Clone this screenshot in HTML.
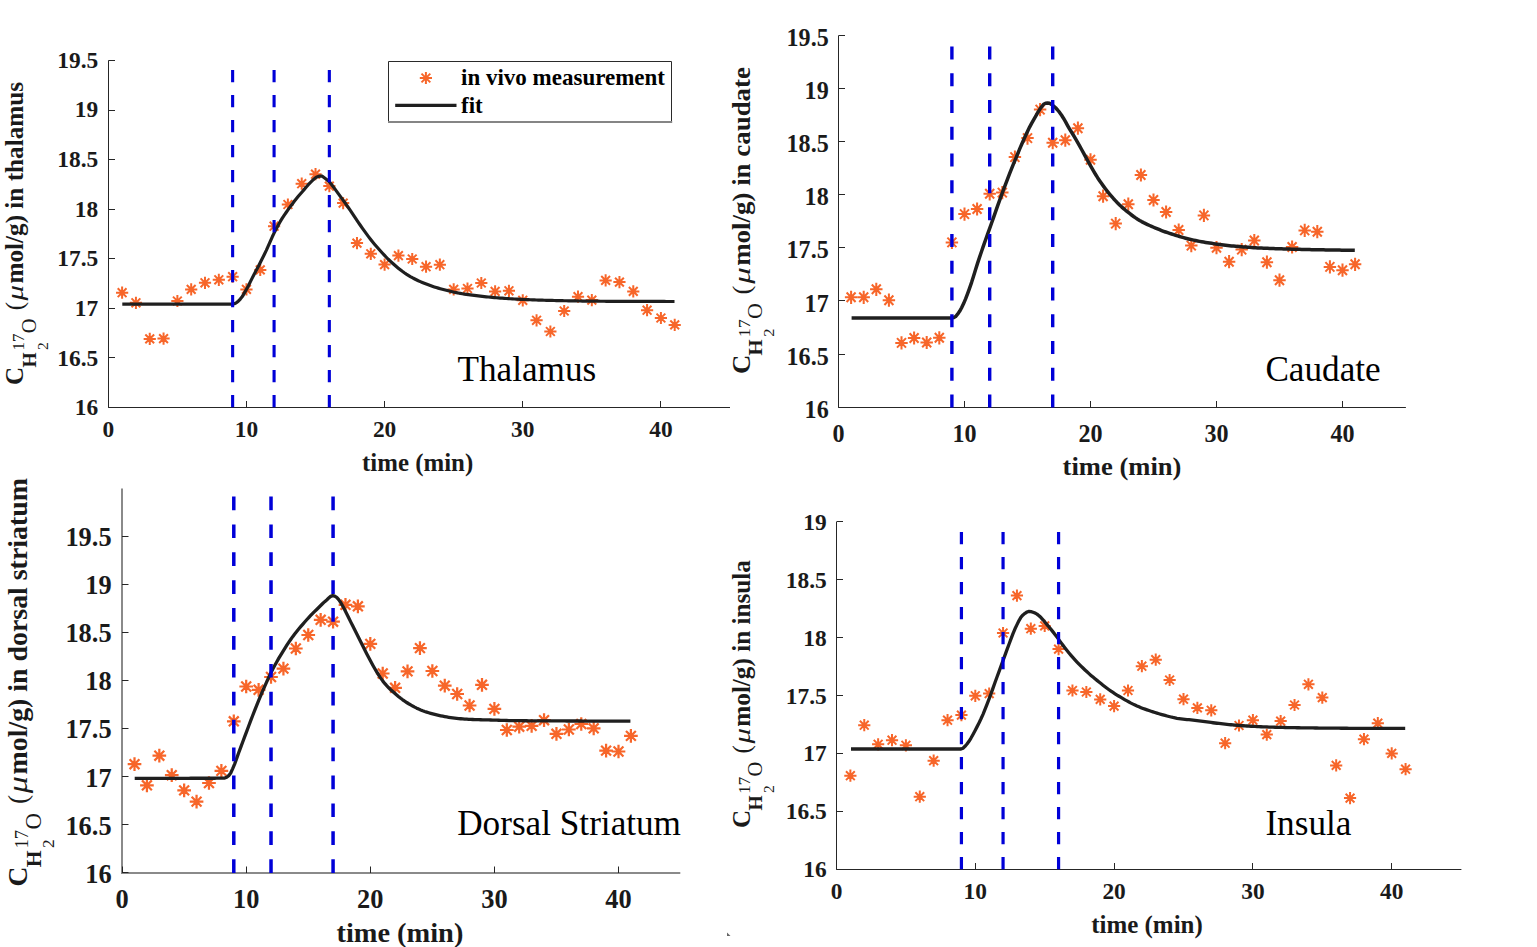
<!DOCTYPE html>
<html><head><meta charset="utf-8"><style>
html,body{margin:0;padding:0;background:#fff;}
svg{display:block;}
</style></head><body>
<svg width="1537" height="947" viewBox="0 0 1537 947">
<rect width="1537" height="947" fill="#fff"/>
<g id="p1"><path d="M108.50,60.45V407.50H730.00" fill="none" stroke="#262626" stroke-width="1.0" stroke-linecap="butt"/>
<path d="M108.50,407.50h6.5M108.50,357.50h6.5M108.50,308.50h6.5M108.50,258.50h6.5M108.50,209.50h6.5M108.50,159.50h6.5M108.50,110.50h6.5M108.50,60.50h6.5M108.50,407.50v-6.5M246.50,407.50v-6.5M384.50,407.50v-6.5M522.50,407.50v-6.5M660.50,407.50v-6.5" stroke="#262626" stroke-width="1" fill="none"/>
<path d="M116.02,292.70h12.20M122.11,286.60v12.20M117.71,288.30l8.80,8.80M117.71,297.10l8.80,-8.80M129.83,302.80h12.20M135.93,296.70v12.20M131.53,298.40l8.80,8.80M131.53,307.20l8.80,-8.80M143.65,338.90h12.20M149.75,332.80v12.20M145.34,334.50l8.80,8.80M145.34,343.30l8.80,-8.80M157.46,338.60h12.20M163.56,332.50v12.20M159.16,334.20l8.80,8.80M159.16,343.00l8.80,-8.80M171.28,301.00h12.20M177.38,294.90v12.20M172.97,296.60l8.80,8.80M172.97,305.40l8.80,-8.80M185.09,289.40h12.20M191.19,283.30v12.20M186.79,285.00l8.80,8.80M186.79,293.80l8.80,-8.80M198.91,282.80h12.20M205.00,276.70v12.20M200.60,278.40l8.80,8.80M200.60,287.20l8.80,-8.80M212.72,279.80h12.20M218.82,273.70v12.20M214.42,275.40l8.80,8.80M214.42,284.20l8.80,-8.80M226.53,276.70h12.20M232.63,270.60v12.20M228.23,272.30l8.80,8.80M228.23,281.10l8.80,-8.80M240.35,289.40h12.20M246.45,283.30v12.20M242.05,285.00l8.80,8.80M242.05,293.80l8.80,-8.80M254.16,269.90h12.20M260.26,263.80v12.20M255.86,265.50l8.80,8.80M255.86,274.30l8.80,-8.80M267.98,226.20h12.20M274.08,220.10v12.20M269.68,221.80l8.80,8.80M269.68,230.60l8.80,-8.80M281.79,204.50h12.20M287.89,198.40v12.20M283.50,200.10l8.80,8.80M283.50,208.90l8.80,-8.80M295.61,183.70h12.20M301.71,177.60v12.20M297.31,179.30l8.80,8.80M297.31,188.10l8.80,-8.80M309.42,174.20h12.20M315.52,168.10v12.20M311.12,169.80l8.80,8.80M311.12,178.60l8.80,-8.80M323.24,186.10h12.20M329.34,180.00v12.20M324.94,181.70l8.80,8.80M324.94,190.50l8.80,-8.80M337.05,203.10h12.20M343.15,197.00v12.20M338.75,198.70l8.80,8.80M338.75,207.50l8.80,-8.80M350.87,243.10h12.20M356.97,237.00v12.20M352.57,238.70l8.80,8.80M352.57,247.50l8.80,-8.80M364.69,253.80h12.20M370.79,247.70v12.20M366.39,249.40l8.80,8.80M366.39,258.20l8.80,-8.80M378.50,264.60h12.20M384.60,258.50v12.20M380.20,260.20l8.80,8.80M380.20,269.00l8.80,-8.80M392.31,255.60h12.20M398.42,249.50v12.20M394.02,251.20l8.80,8.80M394.02,260.00l8.80,-8.80M406.13,259.00h12.20M412.23,252.90v12.20M407.83,254.60l8.80,8.80M407.83,263.40l8.80,-8.80M419.94,266.70h12.20M426.05,260.60v12.20M421.65,262.30l8.80,8.80M421.65,271.10l8.80,-8.80M433.76,264.70h12.20M439.86,258.60v12.20M435.46,260.30l8.80,8.80M435.46,269.10l8.80,-8.80M447.57,289.40h12.20M453.68,283.30v12.20M449.28,285.00l8.80,8.80M449.28,293.80l8.80,-8.80M461.39,288.50h12.20M467.49,282.40v12.20M463.09,284.10l8.80,8.80M463.09,292.90l8.80,-8.80M475.20,283.00h12.20M481.31,276.90v12.20M476.91,278.60l8.80,8.80M476.91,287.40l8.80,-8.80M489.02,291.40h12.20M495.12,285.30v12.20M490.72,287.00l8.80,8.80M490.72,295.80l8.80,-8.80M502.83,290.80h12.20M508.94,284.70v12.20M504.54,286.40l8.80,8.80M504.54,295.20l8.80,-8.80M516.65,300.30h12.20M522.75,294.20v12.20M518.35,295.90l8.80,8.80M518.35,304.70l8.80,-8.80M530.46,320.30h12.20M536.56,314.20v12.20M532.16,315.90l8.80,8.80M532.16,324.70l8.80,-8.80M544.28,331.50h12.20M550.38,325.40v12.20M545.98,327.10l8.80,8.80M545.98,335.90l8.80,-8.80M558.09,311.00h12.20M564.19,304.90v12.20M559.79,306.60l8.80,8.80M559.79,315.40l8.80,-8.80M571.91,296.70h12.20M578.01,290.60v12.20M573.61,292.30l8.80,8.80M573.61,301.10l8.80,-8.80M585.72,300.10h12.20M591.82,294.00v12.20M587.42,295.70l8.80,8.80M587.42,304.50l8.80,-8.80M599.54,280.40h12.20M605.64,274.30v12.20M601.24,276.00l8.80,8.80M601.24,284.80l8.80,-8.80M613.35,282.10h12.20M619.45,276.00v12.20M615.05,277.70l8.80,8.80M615.05,286.50l8.80,-8.80M627.17,291.40h12.20M633.27,285.30v12.20M628.87,287.00l8.80,8.80M628.87,295.80l8.80,-8.80M640.98,310.20h12.20M647.08,304.10v12.20M642.68,305.80l8.80,8.80M642.68,314.60l8.80,-8.80M654.80,318.00h12.20M660.90,311.90v12.20M656.50,313.60l8.80,8.80M656.50,322.40l8.80,-8.80M668.61,324.90h12.20M674.71,318.80v12.20M670.31,320.50l8.80,8.80M670.31,329.30l8.80,-8.80" stroke="#f7662a" stroke-width="2.00" fill="none"/>
<path d="M122.3,304.20 124.3,304.20 126.3,304.20 128.3,304.20 130.3,304.20 132.3,304.20 134.3,304.20 136.3,304.20 138.3,304.20 140.3,304.20 142.3,304.20 144.3,304.20 146.3,304.20 148.3,304.20 150.3,304.20 152.3,304.20 154.3,304.20 156.3,304.20 158.3,304.20 160.3,304.20 162.3,304.20 164.3,304.20 166.3,304.20 168.3,304.20 170.3,304.20 172.3,304.20 174.3,304.20 176.3,304.20 178.3,304.20 180.3,304.20 182.3,304.20 184.3,304.20 186.3,304.20 188.3,304.20 190.3,304.20 192.3,304.20 194.3,304.20 196.3,304.20 198.3,304.20 200.3,304.20 202.3,304.20 204.3,304.20 206.3,304.20 208.3,304.20 210.3,304.20 212.3,304.20 214.3,304.20 216.3,304.20 218.3,304.20 220.3,304.20 222.3,304.20 224.3,304.20 226.3,304.20 228.3,304.20 230.3,304.20 232.3,304.15 234.3,303.78 236.3,302.84 238.3,301.21 240.3,299.07 242.3,296.59 244.3,293.09 246.3,289.63 248.3,286.04 250.3,281.90 252.3,277.89 254.3,273.93 256.3,270.22 258.3,266.53 260.3,262.50 262.3,258.59 264.3,254.57 266.3,250.35 268.3,245.87 270.3,241.29 272.3,236.80 274.3,232.60 276.3,228.69 278.3,224.96 280.3,221.42 282.3,218.12 284.3,215.07 286.3,212.21 288.3,209.43 290.3,206.67 292.3,203.95 294.3,201.31 296.3,198.78 298.3,196.34 300.3,193.99 302.3,191.68 304.3,189.37 306.3,187.00 308.3,184.68 310.3,182.56 312.3,180.67 314.3,178.78 316.3,177.24 318.3,176.43 320.3,176.08 322.3,176.22 324.3,177.77 326.3,179.27 328.3,180.95 330.3,182.98 332.3,185.47 334.3,188.17 336.3,190.85 338.3,193.60 340.3,196.37 342.3,199.11 344.3,201.82 346.3,204.60 348.3,207.46 350.3,210.41 352.3,213.40 354.3,216.40 356.3,219.39 358.3,222.34 360.3,225.25 362.3,228.09 364.3,230.89 366.3,233.65 368.3,236.35 370.3,238.98 372.3,241.51 374.3,243.93 376.3,246.26 378.3,248.54 380.3,250.78 382.3,252.99 384.3,255.15 386.3,257.25 388.3,259.27 390.3,261.19 392.3,263.03 394.3,264.80 396.3,266.51 398.3,268.16 400.3,269.76 402.3,271.29 404.3,272.73 406.3,274.08 408.3,275.33 410.3,276.52 412.3,277.65 414.3,278.72 416.3,279.74 418.3,280.71 420.3,281.61 422.3,282.46 424.3,283.27 426.3,284.05 428.3,284.81 430.3,285.54 432.3,286.25 434.3,286.92 436.3,287.55 438.3,288.14 440.3,288.70 442.3,289.25 444.3,289.78 446.3,290.30 448.3,290.81 450.3,291.29 452.3,291.76 454.3,292.20 456.3,292.62 458.3,293.02 460.3,293.40 462.3,293.75 464.3,294.08 466.3,294.39 468.3,294.67 470.3,294.93 472.3,295.18 474.3,295.42 476.3,295.66 478.3,295.90 480.3,296.13 482.3,296.37 484.3,296.59 486.3,296.81 488.3,297.02 490.3,297.21 492.3,297.40 494.3,297.58 496.3,297.75 498.3,297.91 500.3,298.06 502.3,298.21 504.3,298.35 506.3,298.49 508.3,298.62 510.3,298.75 512.3,298.87 514.3,298.99 516.3,299.10 518.3,299.21 520.3,299.31 522.3,299.40 524.3,299.49 526.3,299.58 528.3,299.67 530.3,299.75 532.3,299.83 534.3,299.90 536.3,299.98 538.3,300.05 540.3,300.11 542.3,300.18 544.3,300.24 546.3,300.30 548.3,300.35 550.3,300.41 552.3,300.46 554.3,300.51 556.3,300.56 558.3,300.60 560.3,300.65 562.3,300.69 564.3,300.73 566.3,300.77 568.3,300.81 570.3,300.85 572.3,300.88 574.3,300.92 576.3,300.95 578.3,300.98 580.3,301.01 582.3,301.03 584.3,301.06 586.3,301.08 588.3,301.11 590.3,301.13 592.3,301.15 594.3,301.18 596.3,301.20 598.3,301.21 600.3,301.23 602.3,301.25 604.3,301.26 606.3,301.28 608.3,301.29 610.3,301.30 612.3,301.31 614.3,301.32 616.3,301.33 618.3,301.34 620.3,301.34 622.3,301.35 624.3,301.36 626.3,301.36 628.3,301.37 630.3,301.37 632.3,301.38 634.3,301.38 636.3,301.39 638.3,301.40 640.3,301.40 642.3,301.41 644.3,301.41 646.3,301.42 648.3,301.43 650.3,301.43 652.3,301.44 654.3,301.44 656.3,301.45 658.3,301.46 660.3,301.46 662.3,301.47 664.3,301.47 666.3,301.48 668.3,301.48 670.3,301.49 672.3,301.49 674.3,301.50 674.5,301.50" stroke="#1f1f1f" stroke-width="3.2" fill="none" stroke-linejoin="round"/>
<line x1="232.63" y1="407.30" x2="232.63" y2="70.00" stroke="#0000d8" stroke-width="3.1" stroke-dasharray="12.2 12.8"/>
<line x1="274.08" y1="407.30" x2="274.08" y2="70.00" stroke="#0000d8" stroke-width="3.1" stroke-dasharray="12.2 12.8"/>
<line x1="329.34" y1="407.30" x2="329.34" y2="70.00" stroke="#0000d8" stroke-width="3.1" stroke-dasharray="12.2 12.8"/></g>
<g id="p2"><path d="M838.50,35.61V407.50H1405.90" fill="none" stroke="#262626" stroke-width="1.0" stroke-linecap="butt"/>
<path d="M838.50,407.50h6.5M838.50,354.50h6.5M838.50,300.50h6.5M838.50,247.50h6.5M838.50,194.50h6.5M838.50,141.50h6.5M838.50,88.50h6.5M838.50,35.50h6.5M838.50,407.50v-6.5M964.50,407.50v-6.5M1090.50,407.50v-6.5M1216.50,407.50v-6.5M1342.50,407.50v-6.5" stroke="#262626" stroke-width="1" fill="none"/>
<path d="M844.88,297.30h12.44M851.10,290.71v13.18M846.61,292.55l8.98,9.50M846.61,302.05l8.98,-9.50M857.48,297.30h12.44M863.70,290.71v13.18M859.21,292.55l8.98,9.50M859.21,302.05l8.98,-9.50M870.08,289.30h12.44M876.30,282.71v13.18M871.81,284.55l8.98,9.50M871.81,294.05l8.98,-9.50M882.68,300.20h12.44M888.90,293.61v13.18M884.41,295.45l8.98,9.50M884.41,304.95l8.98,-9.50M895.28,342.90h12.44M901.50,336.31v13.18M897.01,338.15l8.98,9.50M897.01,347.65l8.98,-9.50M907.88,338.00h12.44M914.10,331.41v13.18M909.61,333.25l8.98,9.50M909.61,342.75l8.98,-9.50M920.48,342.50h12.44M926.70,335.91v13.18M922.21,337.75l8.98,9.50M922.21,347.25l8.98,-9.50M933.08,337.80h12.44M939.30,331.21v13.18M934.81,333.05l8.98,9.50M934.81,342.55l8.98,-9.50M945.68,242.40h12.44M951.90,235.81v13.18M947.41,237.65l8.98,9.50M947.41,247.15l8.98,-9.50M958.28,214.10h12.44M964.50,207.51v13.18M960.01,209.35l8.98,9.50M960.01,218.85l8.98,-9.50M970.88,209.00h12.44M977.10,202.41v13.18M972.61,204.25l8.98,9.50M972.61,213.75l8.98,-9.50M983.48,193.80h12.44M989.70,187.21v13.18M985.21,189.05l8.98,9.50M985.21,198.55l8.98,-9.50M996.08,192.60h12.44M1002.30,186.01v13.18M997.81,187.85l8.98,9.50M997.81,197.35l8.98,-9.50M1008.68,157.10h12.44M1014.90,150.51v13.18M1010.41,152.35l8.98,9.50M1010.41,161.85l8.98,-9.50M1021.28,138.10h12.44M1027.50,131.51v13.18M1023.01,133.35l8.98,9.50M1023.01,142.85l8.98,-9.50M1033.88,109.60h12.44M1040.10,103.01v13.18M1035.61,104.85l8.98,9.50M1035.61,114.35l8.98,-9.50M1046.48,142.70h12.44M1052.70,136.11v13.18M1048.21,137.95l8.98,9.50M1048.21,147.45l8.98,-9.50M1059.08,140.20h12.44M1065.30,133.61v13.18M1060.81,135.45l8.98,9.50M1060.81,144.95l8.98,-9.50M1071.68,128.20h12.44M1077.90,121.61v13.18M1073.41,123.45l8.98,9.50M1073.41,132.95l8.98,-9.50M1084.28,159.80h12.44M1090.50,153.21v13.18M1086.01,155.05l8.98,9.50M1086.01,164.55l8.98,-9.50M1096.88,196.20h12.44M1103.10,189.61v13.18M1098.61,191.45l8.98,9.50M1098.61,200.95l8.98,-9.50M1109.48,223.60h12.44M1115.70,217.01v13.18M1111.21,218.85l8.98,9.50M1111.21,228.35l8.98,-9.50M1122.08,204.20h12.44M1128.30,197.61v13.18M1123.81,199.45l8.98,9.50M1123.81,208.95l8.98,-9.50M1134.68,175.00h12.44M1140.90,168.41v13.18M1136.41,170.25l8.98,9.50M1136.41,179.75l8.98,-9.50M1147.28,200.00h12.44M1153.50,193.41v13.18M1149.01,195.25l8.98,9.50M1149.01,204.75l8.98,-9.50M1159.88,212.00h12.44M1166.10,205.41v13.18M1161.61,207.25l8.98,9.50M1161.61,216.75l8.98,-9.50M1172.48,230.00h12.44M1178.70,223.41v13.18M1174.21,225.25l8.98,9.50M1174.21,234.75l8.98,-9.50M1185.08,245.60h12.44M1191.30,239.01v13.18M1186.81,240.85l8.98,9.50M1186.81,250.35l8.98,-9.50M1197.68,215.40h12.44M1203.90,208.81v13.18M1199.41,210.65l8.98,9.50M1199.41,220.15l8.98,-9.50M1210.28,247.70h12.44M1216.50,241.11v13.18M1212.01,242.95l8.98,9.50M1212.01,252.45l8.98,-9.50M1222.88,261.70h12.44M1229.10,255.11v13.18M1224.61,256.95l8.98,9.50M1224.61,266.45l8.98,-9.50M1235.48,249.60h12.44M1241.70,243.01v13.18M1237.21,244.85l8.98,9.50M1237.21,254.35l8.98,-9.50M1248.08,240.50h12.44M1254.30,233.91v13.18M1249.81,235.75l8.98,9.50M1249.81,245.25l8.98,-9.50M1260.68,262.20h12.44M1266.90,255.61v13.18M1262.41,257.45l8.98,9.50M1262.41,266.95l8.98,-9.50M1273.28,280.20h12.44M1279.50,273.61v13.18M1275.01,275.45l8.98,9.50M1275.01,284.95l8.98,-9.50M1285.88,247.00h12.44M1292.10,240.41v13.18M1287.61,242.25l8.98,9.50M1287.61,251.75l8.98,-9.50M1298.48,230.40h12.44M1304.70,223.81v13.18M1300.21,225.65l8.98,9.50M1300.21,235.15l8.98,-9.50M1311.08,231.70h12.44M1317.30,225.11v13.18M1312.81,226.95l8.98,9.50M1312.81,236.45l8.98,-9.50M1323.68,266.90h12.44M1329.90,260.31v13.18M1325.41,262.15l8.98,9.50M1325.41,271.65l8.98,-9.50M1336.28,270.20h12.44M1342.50,263.61v13.18M1338.01,265.45l8.98,9.50M1338.01,274.95l8.98,-9.50M1348.88,264.30h12.44M1355.10,257.71v13.18M1350.61,259.55l8.98,9.50M1350.61,269.05l8.98,-9.50" stroke="#f7662a" stroke-width="2.04" fill="none"/>
<path d="M851.6,318.00 853.6,318.00 855.6,318.00 857.6,318.00 859.6,318.00 861.6,318.00 863.6,318.00 865.6,318.00 867.6,318.00 869.6,318.00 871.6,318.00 873.6,318.00 875.6,318.00 877.6,318.00 879.6,318.00 881.6,318.00 883.6,318.00 885.6,318.00 887.6,318.00 889.6,318.00 891.6,318.00 893.6,318.00 895.6,318.00 897.6,318.00 899.6,318.00 901.6,318.00 903.6,318.00 905.6,318.00 907.6,318.00 909.6,318.00 911.6,318.00 913.6,318.00 915.6,318.00 917.6,318.00 919.6,318.00 921.6,318.00 923.6,318.00 925.6,318.00 927.6,318.00 929.6,318.00 931.6,318.00 933.6,318.00 935.6,318.00 937.6,318.00 939.6,318.00 941.6,318.00 943.6,318.00 945.6,318.00 947.6,318.00 949.6,318.00 951.6,318.00 953.6,317.65 955.6,316.56 957.6,314.23 959.6,311.37 961.6,307.73 963.6,303.59 965.6,298.93 967.6,293.71 969.6,288.14 971.6,282.34 973.6,276.03 975.6,269.48 977.6,263.11 979.6,257.09 981.6,251.20 983.6,245.42 985.6,239.72 987.6,234.17 989.6,228.67 991.6,223.03 993.6,217.32 995.6,211.62 997.6,205.94 999.6,200.32 1001.6,194.81 1003.6,189.38 1005.6,184.04 1007.6,178.79 1009.6,173.66 1011.6,168.64 1013.6,163.69 1015.6,158.81 1017.6,153.97 1019.6,149.18 1021.6,144.51 1023.6,139.97 1025.6,135.51 1027.6,131.18 1029.6,127.08 1031.6,123.31 1033.6,119.78 1035.6,116.33 1037.6,112.80 1039.6,109.59 1041.6,106.79 1043.6,104.27 1045.6,103.24 1047.6,103.03 1049.6,103.19 1051.6,104.40 1053.6,106.00 1055.6,107.79 1057.6,109.99 1059.6,112.44 1061.6,115.30 1063.6,118.46 1065.6,121.90 1067.6,125.55 1069.6,129.06 1071.6,132.29 1073.6,135.46 1075.6,138.79 1077.6,142.27 1079.6,145.84 1081.6,149.47 1083.6,153.14 1085.6,156.84 1087.6,160.52 1089.6,164.16 1091.6,167.72 1093.6,171.17 1095.6,174.48 1097.6,177.66 1099.6,180.68 1101.6,183.58 1103.6,186.36 1105.6,189.02 1107.6,191.58 1109.6,194.04 1111.6,196.42 1113.6,198.70 1115.6,200.88 1117.6,202.97 1119.6,204.94 1121.6,206.82 1123.6,208.59 1125.6,210.29 1127.6,211.91 1129.6,213.48 1131.6,215.00 1133.6,216.47 1135.6,217.87 1137.6,219.20 1139.6,220.43 1141.6,221.58 1143.6,222.64 1145.6,223.64 1147.6,224.59 1149.6,225.49 1151.6,226.37 1153.6,227.24 1155.6,228.09 1157.6,228.93 1159.6,229.74 1161.6,230.52 1163.6,231.27 1165.6,231.99 1167.6,232.69 1169.6,233.36 1171.6,234.02 1173.6,234.67 1175.6,235.30 1177.6,235.92 1179.6,236.52 1181.6,237.10 1183.6,237.65 1185.6,238.19 1187.6,238.70 1189.6,239.20 1191.6,239.67 1193.6,240.12 1195.6,240.56 1197.6,240.98 1199.6,241.37 1201.6,241.75 1203.6,242.09 1205.6,242.42 1207.6,242.73 1209.6,243.02 1211.6,243.32 1213.6,243.61 1215.6,243.92 1217.6,244.22 1219.6,244.52 1221.6,244.81 1223.6,245.08 1225.6,245.32 1227.6,245.54 1229.6,245.74 1231.6,245.93 1233.6,246.11 1235.6,246.28 1237.6,246.44 1239.6,246.60 1241.6,246.75 1243.6,246.91 1245.6,247.06 1247.6,247.22 1249.6,247.37 1251.6,247.52 1253.6,247.66 1255.6,247.79 1257.6,247.91 1259.6,248.01 1261.6,248.11 1263.6,248.20 1265.6,248.29 1267.6,248.37 1269.6,248.44 1271.6,248.52 1273.6,248.59 1275.6,248.66 1277.6,248.72 1279.6,248.78 1281.6,248.85 1283.6,248.91 1285.6,248.97 1287.6,249.03 1289.6,249.08 1291.6,249.14 1293.6,249.20 1295.6,249.25 1297.6,249.31 1299.6,249.36 1301.6,249.41 1303.6,249.45 1305.6,249.50 1307.6,249.54 1309.6,249.59 1311.6,249.63 1313.6,249.67 1315.6,249.71 1317.6,249.75 1319.6,249.78 1321.6,249.82 1323.6,249.86 1325.6,249.89 1327.6,249.93 1329.6,249.96 1331.6,250.00 1333.6,250.03 1335.6,250.06 1337.6,250.09 1339.6,250.12 1341.6,250.15 1343.6,250.17 1345.6,250.20 1347.6,250.22 1349.6,250.24 1351.6,250.26 1353.6,250.28 1354.8,250.29" stroke="#1f1f1f" stroke-width="3.5" fill="none" stroke-linejoin="round"/>
<line x1="951.90" y1="407.60" x2="951.90" y2="46.30" stroke="#0000d8" stroke-width="3.4" stroke-dasharray="13 13.78"/>
<line x1="989.70" y1="407.60" x2="989.70" y2="46.30" stroke="#0000d8" stroke-width="3.4" stroke-dasharray="13 13.78"/>
<line x1="1052.70" y1="407.60" x2="1052.70" y2="46.30" stroke="#0000d8" stroke-width="3.4" stroke-dasharray="13 13.78"/></g>
<g id="p3"><path d="M122.00,488.40V873.00H680.30" fill="none" stroke="#8a8a8a" stroke-width="2.0" stroke-linecap="butt"/>
<path d="M122.00,872.50h6.5M122.00,824.50h6.5M122.00,776.50h6.5M122.00,728.50h6.5M122.00,680.50h6.5M122.00,632.50h6.5M122.00,584.50h6.5M122.00,536.50h6.5M122.50,873.00v-6.5M246.50,873.00v-6.5M370.50,873.00v-6.5M494.50,873.00v-6.5M618.50,873.00v-6.5" stroke="#262626" stroke-width="1" fill="none"/>
<path d="M127.68,764.20h13.66M134.51,757.37v13.66M129.58,759.27l9.86,9.86M129.58,769.13l9.86,-9.86M140.09,785.30h13.66M146.92,778.47v13.66M141.99,780.37l9.86,9.86M141.99,790.23l9.86,-9.86M152.50,755.70h13.66M159.33,748.87v13.66M154.40,750.77l9.86,9.86M154.40,760.63l9.86,-9.86M164.91,775.20h13.66M171.74,768.37v13.66M166.81,770.27l9.86,9.86M166.81,780.13l9.86,-9.86M177.32,790.40h13.66M184.15,783.57v13.66M179.22,785.47l9.86,9.86M179.22,795.33l9.86,-9.86M189.73,801.60h13.66M196.56,794.77v13.66M191.63,796.67l9.86,9.86M191.63,806.53l9.86,-9.86M202.14,783.00h13.66M208.97,776.17v13.66M204.04,778.07l9.86,9.86M204.04,787.93l9.86,-9.86M214.55,770.90h13.66M221.38,764.07v13.66M216.45,765.97l9.86,9.86M216.45,775.83l9.86,-9.86M226.96,721.30h13.66M233.79,714.47v13.66M228.86,716.37l9.86,9.86M228.86,726.23l9.86,-9.86M239.37,686.50h13.66M246.20,679.67v13.66M241.27,681.57l9.86,9.86M241.27,691.43l9.86,-9.86M251.78,689.80h13.66M258.61,682.97v13.66M253.68,684.87l9.86,9.86M253.68,694.73l9.86,-9.86M264.19,677.00h13.66M271.02,670.17v13.66M266.09,672.07l9.86,9.86M266.09,681.93l9.86,-9.86M276.60,668.60h13.66M283.43,661.77v13.66M278.50,663.67l9.86,9.86M278.50,673.53l9.86,-9.86M289.01,648.50h13.66M295.84,641.67v13.66M290.91,643.57l9.86,9.86M290.91,653.43l9.86,-9.86M301.42,635.00h13.66M308.25,628.17v13.66M303.32,630.07l9.86,9.86M303.32,639.93l9.86,-9.86M313.83,619.80h13.66M320.66,612.97v13.66M315.73,614.87l9.86,9.86M315.73,624.73l9.86,-9.86M326.24,621.70h13.66M333.07,614.87v13.66M328.14,616.77l9.86,9.86M328.14,626.63l9.86,-9.86M338.65,604.80h13.66M345.48,597.97v13.66M340.55,599.87l9.86,9.86M340.55,609.73l9.86,-9.86M351.06,606.30h13.66M357.89,599.47v13.66M352.96,601.37l9.86,9.86M352.96,611.23l9.86,-9.86M363.47,643.90h13.66M370.30,637.07v13.66M365.37,638.97l9.86,9.86M365.37,648.83l9.86,-9.86M375.88,673.50h13.66M382.71,666.67v13.66M377.78,668.57l9.86,9.86M377.78,678.43l9.86,-9.86M388.29,687.80h13.66M395.12,680.97v13.66M390.19,682.87l9.86,9.86M390.19,692.73l9.86,-9.86M400.70,671.40h13.66M407.53,664.57v13.66M402.60,666.47l9.86,9.86M402.60,676.33l9.86,-9.86M413.11,648.10h13.66M419.94,641.27v13.66M415.01,643.17l9.86,9.86M415.01,653.03l9.86,-9.86M425.52,671.00h13.66M432.35,664.17v13.66M427.42,666.07l9.86,9.86M427.42,675.93l9.86,-9.86M437.93,685.70h13.66M444.76,678.87v13.66M439.83,680.77l9.86,9.86M439.83,690.63l9.86,-9.86M450.34,694.00h13.66M457.17,687.17v13.66M452.24,689.07l9.86,9.86M452.24,698.93l9.86,-9.86M462.75,705.50h13.66M469.58,698.67v13.66M464.65,700.57l9.86,9.86M464.65,710.43l9.86,-9.86M475.16,684.80h13.66M481.99,677.97v13.66M477.06,679.87l9.86,9.86M477.06,689.73l9.86,-9.86M487.57,708.90h13.66M494.40,702.07v13.66M489.47,703.97l9.86,9.86M489.47,713.83l9.86,-9.86M499.98,730.00h13.66M506.81,723.17v13.66M501.88,725.07l9.86,9.86M501.88,734.93l9.86,-9.86M512.39,726.70h13.66M519.22,719.87v13.66M514.29,721.77l9.86,9.86M514.29,731.63l9.86,-9.86M524.80,725.80h13.66M531.63,718.97v13.66M526.70,720.87l9.86,9.86M526.70,730.73l9.86,-9.86M537.21,720.20h13.66M544.04,713.37v13.66M539.11,715.27l9.86,9.86M539.11,725.13l9.86,-9.86M549.62,733.80h13.66M556.45,726.97v13.66M551.52,728.87l9.86,9.86M551.52,738.73l9.86,-9.86M562.03,729.50h13.66M568.86,722.67v13.66M563.93,724.57l9.86,9.86M563.93,734.43l9.86,-9.86M574.44,724.00h13.66M581.27,717.17v13.66M576.34,719.07l9.86,9.86M576.34,728.93l9.86,-9.86M586.85,728.30h13.66M593.68,721.47v13.66M588.75,723.37l9.86,9.86M588.75,733.23l9.86,-9.86M599.26,750.60h13.66M606.09,743.77v13.66M601.16,745.67l9.86,9.86M601.16,755.53l9.86,-9.86M611.67,751.50h13.66M618.50,744.67v13.66M613.57,746.57l9.86,9.86M613.57,756.43l9.86,-9.86M624.08,735.90h13.66M630.91,729.07v13.66M625.98,730.97l9.86,9.86M625.98,740.83l9.86,-9.86" stroke="#f7662a" stroke-width="2.24" fill="none"/>
<path d="M134.7,778.30 136.7,778.30 138.7,778.30 140.7,778.30 142.7,778.30 144.7,778.30 146.7,778.30 148.7,778.30 150.7,778.30 152.7,778.30 154.7,778.30 156.7,778.30 158.7,778.30 160.7,778.30 162.7,778.30 164.7,778.29 166.7,778.29 168.7,778.29 170.7,778.29 172.7,778.29 174.7,778.29 176.7,778.29 178.7,778.29 180.7,778.28 182.7,778.28 184.7,778.28 186.7,778.28 188.7,778.28 190.7,778.27 192.7,778.27 194.7,778.27 196.7,778.26 198.7,778.26 200.7,778.26 202.7,778.25 204.7,778.25 206.7,778.25 208.7,778.24 210.7,778.24 212.7,778.23 214.7,778.23 216.7,778.22 218.7,778.22 220.7,778.21 222.7,778.20 224.7,778.12 226.7,777.22 228.7,775.65 230.7,773.01 232.7,768.56 234.7,763.82 236.7,758.45 238.7,752.82 240.7,747.38 242.7,742.01 244.7,736.64 246.7,731.30 248.7,725.98 250.7,720.69 252.7,715.48 254.7,710.35 256.7,705.28 258.7,700.34 260.7,695.55 262.7,690.86 264.7,686.30 266.7,681.82 268.7,677.43 270.7,673.21 272.7,669.26 274.7,665.52 276.7,661.93 278.7,658.44 280.7,655.06 282.7,651.79 284.7,648.61 286.7,645.48 288.7,642.42 290.7,639.47 292.7,636.66 294.7,634.02 296.7,631.50 298.7,629.06 300.7,626.67 302.7,624.32 304.7,622.00 306.7,619.75 308.7,617.56 310.7,615.44 312.7,613.41 314.7,611.42 316.7,609.47 318.7,607.51 320.7,605.52 322.7,603.54 324.7,601.66 326.7,599.95 328.7,598.08 330.7,596.38 332.7,595.60 334.7,596.12 336.7,597.37 338.7,599.66 340.7,602.48 342.7,606.03 344.7,609.86 346.7,613.74 348.7,617.80 350.7,621.87 352.7,625.85 354.7,629.79 356.7,633.75 358.7,637.74 360.7,641.76 362.7,645.78 364.7,649.78 366.7,653.73 368.7,657.59 370.7,661.35 372.7,664.98 374.7,668.49 376.7,671.86 378.7,675.08 380.7,678.09 382.7,680.87 384.7,683.40 386.7,685.68 388.7,687.78 390.7,689.72 392.7,691.56 394.7,693.34 396.7,695.06 398.7,696.72 400.7,698.30 402.7,699.79 404.7,701.19 406.7,702.51 408.7,703.76 410.7,704.94 412.7,706.07 414.7,707.14 416.7,708.15 418.7,709.09 420.7,709.96 422.7,710.76 424.7,711.50 426.7,712.17 428.7,712.80 430.7,713.39 432.7,713.94 434.7,714.45 436.7,714.93 438.7,715.39 440.7,715.82 442.7,716.23 444.7,716.62 446.7,716.97 448.7,717.30 450.7,717.60 452.7,717.88 454.7,718.13 456.7,718.35 458.7,718.56 460.7,718.75 462.7,718.92 464.7,719.07 466.7,719.20 468.7,719.31 470.7,719.41 472.7,719.49 474.7,719.56 476.7,719.63 478.7,719.69 480.7,719.75 482.7,719.81 484.7,719.86 486.7,719.91 488.7,719.97 490.7,720.02 492.7,720.08 494.7,720.14 496.7,720.20 498.7,720.26 500.7,720.33 502.7,720.38 504.7,720.44 506.7,720.49 508.7,720.54 510.7,720.59 512.7,720.62 514.7,720.66 516.7,720.68 518.7,720.70 520.7,720.72 522.7,720.74 524.7,720.75 526.7,720.76 528.7,720.78 530.7,720.79 532.7,720.80 534.7,720.81 536.7,720.83 538.7,720.84 540.7,720.85 542.7,720.86 544.7,720.87 546.7,720.88 548.7,720.89 550.7,720.90 552.7,720.91 554.7,720.92 556.7,720.93 558.7,720.94 560.7,720.95 562.7,720.96 564.7,720.97 566.7,720.98 568.7,720.98 570.7,720.99 572.7,721.00 574.7,721.01 576.7,721.01 578.7,721.02 580.7,721.02 582.7,721.03 584.7,721.04 586.7,721.04 588.7,721.05 590.7,721.05 592.7,721.06 594.7,721.06 596.7,721.07 598.7,721.07 600.7,721.07 602.7,721.08 604.7,721.08 606.7,721.08 608.7,721.09 610.7,721.09 612.7,721.09 614.7,721.09 616.7,721.09 618.7,721.10 620.7,721.10 622.7,721.10 624.7,721.10 626.7,721.10 628.7,721.10 630.4,721.10" stroke="#1f1f1f" stroke-width="3.3" fill="none" stroke-linejoin="round"/>
<line x1="233.79" y1="872.90" x2="233.79" y2="495.00" stroke="#0000d8" stroke-width="3.5" stroke-dasharray="13.7 14.2"/>
<line x1="271.02" y1="872.90" x2="271.02" y2="495.00" stroke="#0000d8" stroke-width="3.5" stroke-dasharray="13.7 14.2"/>
<line x1="333.07" y1="872.90" x2="333.07" y2="495.00" stroke="#0000d8" stroke-width="3.5" stroke-dasharray="13.7 14.2"/></g>
<g id="p4"><path d="M836.50,521.90V869.50H1461.40" fill="none" stroke="#262626" stroke-width="1.0" stroke-linecap="butt"/>
<path d="M836.50,869.50h6.5M836.50,811.50h6.5M836.50,753.50h6.5M836.50,695.50h6.5M836.50,637.50h6.5M836.50,579.50h6.5M836.50,521.50h6.5M836.50,869.50v-6.5M975.50,869.50v-6.5M1114.50,869.50v-6.5M1252.50,869.50v-6.5M1391.50,869.50v-6.5" stroke="#262626" stroke-width="1" fill="none"/>
<path d="M844.28,775.70h12.20M850.38,769.60v12.20M845.98,771.30l8.80,8.80M845.98,780.10l8.80,-8.80M858.16,725.20h12.20M864.26,719.10v12.20M859.86,720.80l8.80,8.80M859.86,729.60l8.80,-8.80M872.04,744.30h12.20M878.14,738.20v12.20M873.74,739.90l8.80,8.80M873.74,748.70l8.80,-8.80M885.92,740.20h12.20M892.02,734.10v12.20M887.62,735.80l8.80,8.80M887.62,744.60l8.80,-8.80M899.80,745.30h12.20M905.90,739.20v12.20M901.50,740.90l8.80,8.80M901.50,749.70l8.80,-8.80M913.68,796.70h12.20M919.78,790.60v12.20M915.38,792.30l8.80,8.80M915.38,801.10l8.80,-8.80M927.56,760.70h12.20M933.66,754.60v12.20M929.26,756.30l8.80,8.80M929.26,765.10l8.80,-8.80M941.44,720.20h12.20M947.54,714.10v12.20M943.14,715.80l8.80,8.80M943.14,724.60l8.80,-8.80M955.32,715.10h12.20M961.42,709.00v12.20M957.02,710.70l8.80,8.80M957.02,719.50l8.80,-8.80M969.20,695.80h12.20M975.30,689.70v12.20M970.90,691.40l8.80,8.80M970.90,700.20l8.80,-8.80M983.08,693.60h12.20M989.18,687.50v12.20M984.78,689.20l8.80,8.80M984.78,698.00l8.80,-8.80M996.96,633.00h12.20M1003.06,626.90v12.20M998.66,628.60l8.80,8.80M998.66,637.40l8.80,-8.80M1010.84,595.60h12.20M1016.94,589.50v12.20M1012.54,591.20l8.80,8.80M1012.54,600.00l8.80,-8.80M1024.72,628.70h12.20M1030.82,622.60v12.20M1026.42,624.30l8.80,8.80M1026.42,633.10l8.80,-8.80M1038.60,625.90h12.20M1044.70,619.80v12.20M1040.30,621.50l8.80,8.80M1040.30,630.30l8.80,-8.80M1052.48,649.10h12.20M1058.58,643.00v12.20M1054.18,644.70l8.80,8.80M1054.18,653.50l8.80,-8.80M1066.36,690.50h12.20M1072.46,684.40v12.20M1068.06,686.10l8.80,8.80M1068.06,694.90l8.80,-8.80M1080.24,692.00h12.20M1086.34,685.90v12.20M1081.94,687.60l8.80,8.80M1081.94,696.40l8.80,-8.80M1094.12,699.40h12.20M1100.22,693.30v12.20M1095.82,695.00l8.80,8.80M1095.82,703.80l8.80,-8.80M1108.00,706.10h12.20M1114.10,700.00v12.20M1109.70,701.70l8.80,8.80M1109.70,710.50l8.80,-8.80M1121.88,690.50h12.20M1127.98,684.40v12.20M1123.58,686.10l8.80,8.80M1123.58,694.90l8.80,-8.80M1135.76,666.20h12.20M1141.86,660.10v12.20M1137.46,661.80l8.80,8.80M1137.46,670.60l8.80,-8.80M1149.64,659.70h12.20M1155.74,653.60v12.20M1151.34,655.30l8.80,8.80M1151.34,664.10l8.80,-8.80M1163.52,680.00h12.20M1169.62,673.90v12.20M1165.22,675.60l8.80,8.80M1165.22,684.40l8.80,-8.80M1177.40,699.20h12.20M1183.50,693.10v12.20M1179.10,694.80l8.80,8.80M1179.10,703.60l8.80,-8.80M1191.28,707.90h12.20M1197.38,701.80v12.20M1192.98,703.50l8.80,8.80M1192.98,712.30l8.80,-8.80M1205.16,710.30h12.20M1211.26,704.20v12.20M1206.86,705.90l8.80,8.80M1206.86,714.70l8.80,-8.80M1219.04,743.20h12.20M1225.14,737.10v12.20M1220.74,738.80l8.80,8.80M1220.74,747.60l8.80,-8.80M1232.92,725.50h12.20M1239.02,719.40v12.20M1234.62,721.10l8.80,8.80M1234.62,729.90l8.80,-8.80M1246.80,720.20h12.20M1252.90,714.10v12.20M1248.50,715.80l8.80,8.80M1248.50,724.60l8.80,-8.80M1260.68,734.60h12.20M1266.78,728.50v12.20M1262.38,730.20l8.80,8.80M1262.38,739.00l8.80,-8.80M1274.56,721.10h12.20M1280.66,715.00v12.20M1276.26,716.70l8.80,8.80M1276.26,725.50l8.80,-8.80M1288.44,705.00h12.20M1294.54,698.90v12.20M1290.14,700.60l8.80,8.80M1290.14,709.40l8.80,-8.80M1302.32,684.30h12.20M1308.42,678.20v12.20M1304.02,679.90l8.80,8.80M1304.02,688.70l8.80,-8.80M1316.20,697.60h12.20M1322.30,691.50v12.20M1317.90,693.20l8.80,8.80M1317.90,702.00l8.80,-8.80M1330.08,765.40h12.20M1336.18,759.30v12.20M1331.78,761.00l8.80,8.80M1331.78,769.80l8.80,-8.80M1343.96,798.10h12.20M1350.06,792.00v12.20M1345.66,793.70l8.80,8.80M1345.66,802.50l8.80,-8.80M1357.84,739.20h12.20M1363.94,733.10v12.20M1359.54,734.80l8.80,8.80M1359.54,743.60l8.80,-8.80M1371.72,723.20h12.20M1377.82,717.10v12.20M1373.42,718.80l8.80,8.80M1373.42,727.60l8.80,-8.80M1385.60,753.40h12.20M1391.70,747.30v12.20M1387.30,749.00l8.80,8.80M1387.30,757.80l8.80,-8.80M1399.48,769.20h12.20M1405.58,763.10v12.20M1401.18,764.80l8.80,8.80M1401.18,773.60l8.80,-8.80" stroke="#f7662a" stroke-width="2.00" fill="none"/>
<path d="M851.0,749.00 853.0,749.00 855.0,749.00 857.0,749.00 859.0,749.00 861.0,749.00 863.0,749.00 865.0,749.00 867.0,749.00 869.0,749.00 871.0,749.00 873.0,749.00 875.0,749.00 877.0,749.00 879.0,749.00 881.0,749.00 883.0,749.00 885.0,749.00 887.0,749.00 889.0,749.00 891.0,749.00 893.0,749.00 895.0,749.00 897.0,749.00 899.0,749.00 901.0,749.00 903.0,749.00 905.0,749.00 907.0,749.00 909.0,749.00 911.0,749.00 913.0,749.00 915.0,749.00 917.0,749.00 919.0,749.00 921.0,749.00 923.0,749.00 925.0,749.00 927.0,749.00 929.0,749.00 931.0,749.00 933.0,749.00 935.0,749.00 937.0,749.00 939.0,749.00 941.0,749.00 943.0,749.00 945.0,749.00 947.0,749.00 949.0,749.00 951.0,749.00 953.0,749.00 955.0,749.00 957.0,749.00 959.0,749.00 961.0,749.00 963.0,748.20 965.0,746.33 967.0,744.03 969.0,741.28 971.0,738.05 973.0,734.43 975.0,730.66 977.0,726.88 979.0,722.94 981.0,718.78 983.0,714.32 985.0,709.49 987.0,704.40 989.0,699.17 991.0,693.73 993.0,688.10 995.0,682.48 997.0,677.00 999.0,671.56 1001.0,666.14 1003.0,660.68 1005.0,655.15 1007.0,649.64 1009.0,644.26 1011.0,638.93 1013.0,633.65 1015.0,628.82 1017.0,624.61 1019.0,620.57 1021.0,617.17 1023.0,614.95 1025.0,613.30 1027.0,612.01 1029.0,611.41 1031.0,611.59 1033.0,612.21 1035.0,613.08 1037.0,614.11 1039.0,615.70 1041.0,617.56 1043.0,619.80 1045.0,622.21 1047.0,624.63 1049.0,626.99 1051.0,629.38 1053.0,631.86 1055.0,634.44 1057.0,637.14 1059.0,639.89 1061.0,642.63 1063.0,645.34 1065.0,648.00 1067.0,650.57 1069.0,653.04 1071.0,655.41 1073.0,657.69 1075.0,659.88 1077.0,662.01 1079.0,664.07 1081.0,666.09 1083.0,668.05 1085.0,669.97 1087.0,671.83 1089.0,673.64 1091.0,675.39 1093.0,677.08 1095.0,678.74 1097.0,680.36 1099.0,681.97 1101.0,683.57 1103.0,685.17 1105.0,686.73 1107.0,688.25 1109.0,689.72 1111.0,691.13 1113.0,692.48 1115.0,693.78 1117.0,695.03 1119.0,696.24 1121.0,697.44 1123.0,698.63 1125.0,699.80 1127.0,700.94 1129.0,702.05 1131.0,703.12 1133.0,704.13 1135.0,705.09 1137.0,706.00 1139.0,706.85 1141.0,707.67 1143.0,708.44 1145.0,709.17 1147.0,709.88 1149.0,710.56 1151.0,711.23 1153.0,711.88 1155.0,712.52 1157.0,713.14 1159.0,713.74 1161.0,714.32 1163.0,714.88 1165.0,715.42 1167.0,715.97 1169.0,716.49 1171.0,717.00 1173.0,717.47 1175.0,717.89 1177.0,718.27 1179.0,718.59 1181.0,718.87 1183.0,719.11 1185.0,719.33 1187.0,719.53 1189.0,719.73 1191.0,719.95 1193.0,720.17 1195.0,720.41 1197.0,720.66 1199.0,720.92 1201.0,721.18 1203.0,721.44 1205.0,721.70 1207.0,721.96 1209.0,722.22 1211.0,722.48 1213.0,722.74 1215.0,722.99 1217.0,723.24 1219.0,723.48 1221.0,723.71 1223.0,723.93 1225.0,724.14 1227.0,724.35 1229.0,724.54 1231.0,724.74 1233.0,724.92 1235.0,725.09 1237.0,725.26 1239.0,725.43 1241.0,725.58 1243.0,725.73 1245.0,725.87 1247.0,726.01 1249.0,726.13 1251.0,726.25 1253.0,726.36 1255.0,726.46 1257.0,726.56 1259.0,726.66 1261.0,726.74 1263.0,726.82 1265.0,726.90 1267.0,726.97 1269.0,727.04 1271.0,727.10 1273.0,727.17 1275.0,727.23 1277.0,727.28 1279.0,727.34 1281.0,727.39 1283.0,727.44 1285.0,727.49 1287.0,727.54 1289.0,727.58 1291.0,727.63 1293.0,727.66 1295.0,727.70 1297.0,727.74 1299.0,727.77 1301.0,727.80 1303.0,727.84 1305.0,727.87 1307.0,727.89 1309.0,727.92 1311.0,727.95 1313.0,727.97 1315.0,728.00 1317.0,728.02 1319.0,728.04 1321.0,728.06 1323.0,728.08 1325.0,728.10 1327.0,728.12 1329.0,728.14 1331.0,728.15 1333.0,728.17 1335.0,728.19 1337.0,728.20 1339.0,728.22 1341.0,728.23 1343.0,728.24 1345.0,728.25 1347.0,728.27 1349.0,728.28 1351.0,728.28 1353.0,728.29 1355.0,728.30 1357.0,728.31 1359.0,728.31 1361.0,728.32 1363.0,728.33 1365.0,728.33 1367.0,728.34 1369.0,728.34 1371.0,728.35 1373.0,728.35 1375.0,728.36 1377.0,728.36 1379.0,728.37 1381.0,728.37 1383.0,728.38 1385.0,728.38 1387.0,728.38 1389.0,728.39 1391.0,728.39 1393.0,728.39 1395.0,728.39 1397.0,728.40 1399.0,728.40 1401.0,728.40 1403.0,728.40 1405.0,728.40 1405.2,728.40" stroke="#1f1f1f" stroke-width="3.3" fill="none" stroke-linejoin="round"/>
<line x1="961.42" y1="869.30" x2="961.42" y2="532.00" stroke="#0000d8" stroke-width="3.2" stroke-dasharray="12.2 12.8"/>
<line x1="1003.06" y1="869.30" x2="1003.06" y2="532.00" stroke="#0000d8" stroke-width="3.2" stroke-dasharray="12.2 12.8"/>
<line x1="1058.58" y1="869.30" x2="1058.58" y2="532.00" stroke="#0000d8" stroke-width="3.2" stroke-dasharray="12.2 12.8"/></g>
<g font-family='"Liberation Serif", serif' font-weight="bold" font-size="23.4" fill="#1a1a1a"><text x="98.20" y="415.10" text-anchor="end">16</text><text x="98.20" y="365.50" text-anchor="end">16.5</text><text x="98.20" y="315.89" text-anchor="end">17</text><text x="98.20" y="266.29" text-anchor="end">17.5</text><text x="98.20" y="216.68" text-anchor="end">18</text><text x="98.20" y="167.08" text-anchor="end">18.5</text><text x="98.20" y="117.47" text-anchor="end">19</text><text x="98.20" y="67.87" text-anchor="end">19.5</text><text x="108.30" y="436.90" text-anchor="middle">0</text><text x="246.45" y="436.90" text-anchor="middle">10</text><text x="384.60" y="436.90" text-anchor="middle">20</text><text x="522.75" y="436.90" text-anchor="middle">30</text><text x="660.90" y="436.90" text-anchor="middle">40</text></g>
<g font-family='"Liberation Serif", serif' font-weight="bold" font-size="24.1" fill="#1a1a1a" transform="scale(1,1.05)"><text x="828.70" y="397.90" text-anchor="end">16</text><text x="828.70" y="347.30" text-anchor="end">16.5</text><text x="828.70" y="296.70" text-anchor="end">17</text><text x="828.70" y="246.10" text-anchor="end">17.5</text><text x="828.70" y="195.50" text-anchor="end">18</text><text x="828.70" y="144.90" text-anchor="end">18.5</text><text x="828.70" y="94.30" text-anchor="end">19</text><text x="828.70" y="43.70" text-anchor="end">19.5</text><text x="838.50" y="421.05" text-anchor="middle">0</text><text x="964.50" y="421.05" text-anchor="middle">10</text><text x="1090.50" y="421.05" text-anchor="middle">20</text><text x="1216.50" y="421.05" text-anchor="middle">30</text><text x="1342.50" y="421.05" text-anchor="middle">40</text></g>
<g font-family='"Liberation Serif", serif' font-weight="bold" font-size="26.4" fill="#1a1a1a"><text x="111.60" y="882.90" text-anchor="end">16</text><text x="111.60" y="834.75" text-anchor="end">16.5</text><text x="111.60" y="786.61" text-anchor="end">17</text><text x="111.60" y="738.46" text-anchor="end">17.5</text><text x="111.60" y="690.32" text-anchor="end">18</text><text x="111.60" y="642.17" text-anchor="end">18.5</text><text x="111.60" y="594.03" text-anchor="end">19</text><text x="111.60" y="545.88" text-anchor="end">19.5</text><text x="122.10" y="908.00" text-anchor="middle">0</text><text x="246.20" y="908.00" text-anchor="middle">10</text><text x="370.30" y="908.00" text-anchor="middle">20</text><text x="494.40" y="908.00" text-anchor="middle">30</text><text x="618.50" y="908.00" text-anchor="middle">40</text></g>
<g font-family='"Liberation Serif", serif' font-weight="bold" font-size="23.4" fill="#1a1a1a"><text x="826.70" y="877.00" text-anchor="end">16</text><text x="826.70" y="819.18" text-anchor="end">16.5</text><text x="826.70" y="761.37" text-anchor="end">17</text><text x="826.70" y="703.56" text-anchor="end">17.5</text><text x="826.70" y="645.74" text-anchor="end">18</text><text x="826.70" y="587.92" text-anchor="end">18.5</text><text x="826.70" y="530.11" text-anchor="end">19</text><text x="836.50" y="899.00" text-anchor="middle">0</text><text x="975.30" y="899.00" text-anchor="middle">10</text><text x="1114.10" y="899.00" text-anchor="middle">20</text><text x="1252.90" y="899.00" text-anchor="middle">30</text><text x="1391.70" y="899.00" text-anchor="middle">40</text></g>
<g transform="translate(23.30,384.90) rotate(-90) scale(1.0,1.0)" font-family='"Liberation Serif", serif' fill="#1a1a1a"><text x="0.00" y="0.00" font-size="25" font-weight="bold" font-style="normal">C</text><text x="17.50" y="12.20" font-size="19.5" font-weight="bold" font-style="normal">H</text><text x="35.00" y="24.70" font-size="15.5" font-weight="normal" font-style="normal">2</text><text x="34.40" y="0.60" font-size="17" font-weight="normal" font-style="normal">17</text><text x="51.70" y="12.30" font-size="20.5" font-weight="normal" font-style="normal">O</text><text x="74.60" y="0.00" font-size="25" font-weight="normal" font-style="normal">(</text><text transform="translate(84.5,0) scale(1.28,1)" font-size="24" font-weight="normal" font-style="italic">μ</text><text x="101.40" y="0.00" font-size="25.2" font-weight="bold" font-style="normal">mol/g) in thalamus</text></g>
<g transform="translate(749.50,374.10) rotate(-90) scale(1.068,1.0)" font-family='"Liberation Serif", serif' fill="#1a1a1a"><text x="0.00" y="0.00" font-size="25" font-weight="bold" font-style="normal">C</text><text x="17.50" y="12.20" font-size="19.5" font-weight="bold" font-style="normal">H</text><text x="35.00" y="24.70" font-size="15.5" font-weight="normal" font-style="normal">2</text><text x="34.40" y="0.60" font-size="17" font-weight="normal" font-style="normal">17</text><text x="51.70" y="12.30" font-size="20.5" font-weight="normal" font-style="normal">O</text><text x="74.60" y="0.00" font-size="25" font-weight="normal" font-style="normal">(</text><text transform="translate(84.5,0) scale(1.28,1)" font-size="24" font-weight="normal" font-style="italic">μ</text><text x="101.40" y="0.00" font-size="25.2" font-weight="bold" font-style="normal">mol/g) in caudate</text></g>
<g transform="translate(26.90,886.60) rotate(-90) scale(1.106,1.115)" font-family='"Liberation Serif", serif' fill="#1a1a1a"><text x="0.00" y="0.00" font-size="25" font-weight="bold" font-style="normal">C</text><text x="17.50" y="12.20" font-size="19.5" font-weight="bold" font-style="normal">H</text><text x="35.00" y="24.70" font-size="15.5" font-weight="normal" font-style="normal">2</text><text x="34.40" y="0.60" font-size="17" font-weight="normal" font-style="normal">17</text><text x="51.70" y="12.30" font-size="20.5" font-weight="normal" font-style="normal">O</text><text x="74.60" y="0.00" font-size="25" font-weight="normal" font-style="normal">(</text><text transform="translate(84.5,0) scale(1.28,1)" font-size="24" font-weight="normal" font-style="italic">μ</text><text x="101.40" y="0.00" font-size="25.2" font-weight="bold" font-style="normal">mol/g) in dorsal striatum</text></g>
<g transform="translate(749.80,828.10) rotate(-90) scale(1.0,0.98)" font-family='"Liberation Serif", serif' fill="#1a1a1a"><text x="0.00" y="0.00" font-size="25" font-weight="bold" font-style="normal">C</text><text x="17.50" y="12.20" font-size="19.5" font-weight="bold" font-style="normal">H</text><text x="35.00" y="24.70" font-size="15.5" font-weight="normal" font-style="normal">2</text><text x="34.40" y="0.60" font-size="17" font-weight="normal" font-style="normal">17</text><text x="51.70" y="12.30" font-size="20.5" font-weight="normal" font-style="normal">O</text><text x="74.60" y="0.00" font-size="25" font-weight="normal" font-style="normal">(</text><text transform="translate(84.5,0) scale(1.28,1)" font-size="24" font-weight="normal" font-style="italic">μ</text><text x="101.40" y="0.00" font-size="25.2" font-weight="bold" font-style="normal">mol/g) in insula</text></g>
<text transform="translate(417.60,470.70) scale(1,1.0)" text-anchor="middle" font-family='"Liberation Serif", serif' font-weight="bold" font-size="24.87" fill="#1a1a1a">time (min)</text>
<text transform="translate(1122.00,474.80) scale(1,0.92)" text-anchor="middle" font-family='"Liberation Serif", serif' font-weight="bold" font-size="26.6" fill="#1a1a1a">time (min)</text>
<text transform="translate(399.90,941.80) scale(1,0.934)" text-anchor="middle" font-family='"Liberation Serif", serif' font-weight="bold" font-size="28.4" fill="#1a1a1a">time (min)</text>
<text transform="translate(1147.00,932.80) scale(1,1.0)" text-anchor="middle" font-family='"Liberation Serif", serif' font-weight="bold" font-size="24.95" fill="#1a1a1a">time (min)</text>
<text x="457.50" y="380.90" font-family='"Liberation Serif", serif' font-size="35.2" fill="#000">Thalamus</text>
<text x="1265.40" y="380.60" font-family='"Liberation Serif", serif' font-size="35.2" fill="#000">Caudate</text>
<text x="457.20" y="834.70" font-family='"Liberation Serif", serif' font-size="35.2" fill="#000">Dorsal Striatum</text>
<text x="1265.40" y="834.80" font-family='"Liberation Serif", serif' font-size="35.2" fill="#000">Insula</text>
<rect x="388" y="61" width="284" height="62" fill="#fff"/><path d="M388.5,121V61.5H671.5V121" fill="none" stroke="#2a2a2a" stroke-width="1"/><path d="M388,122H672.2" fill="none" stroke="#858585" stroke-width="2"/><path d="M419.80,78.00h12.20M425.90,71.90v12.20M421.50,73.60l8.80,8.80M421.50,82.40l8.80,-8.80" stroke="#f7662a" stroke-width="2.0" fill="none"/><line x1="395.2" y1="105.4" x2="456.5" y2="105.4" stroke="#1f1f1f" stroke-width="3.2"/><text font-family='"Liberation Serif", serif' font-weight="bold" font-size="23" fill="#000"><tspan x="461" y="84.7">in vivo measurement</tspan><tspan x="461" y="112.7">fit</tspan></text>
<path d="M727,932.5 L730.5,936 L727,936 Z" fill="#666"/>
</svg>
</body></html>
